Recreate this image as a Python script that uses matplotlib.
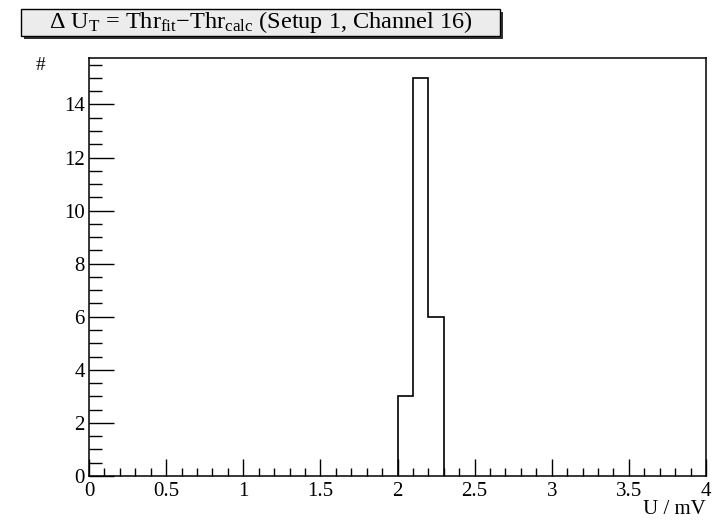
import matplotlib
matplotlib.use("Agg")
import matplotlib.pyplot as plt
from matplotlib.patches import Rectangle
from matplotlib.ticker import MultipleLocator, FuncFormatter

plt.rcParams['font.family'] = ['Liberation Serif', 'DejaVu Serif']
plt.rcParams['mathtext.fontset'] = 'custom'
plt.rcParams['mathtext.rm'] = 'Liberation Serif'
plt.rcParams['mathtext.it'] = 'Liberation Serif:italic'

# data
bin_edges = [2.0, 2.1, 2.2, 2.3]
counts = [3, 15, 6]
x_label = "U / mV"
y_label = "#"
title = r"$\Delta$ U$_{\mathrm{T}}$ = Thr$_{\mathrm{fit}}$$-$Thr$_{\mathrm{calc}}$ (Setup 1, Channel 16)"

W, H = 718, 521
fig = plt.figure(figsize=(W / 100, H / 100), dpi=100)
ax = fig.add_axes([89 / W, (H - 476) / H, (706 - 89) / W, (476 - 58) / H])

ax.stairs(counts, bin_edges, baseline=0, color='black', linewidth=1.2)

ax.set_xlim(0, 4)
ax.set_ylim(0, 15.75)
ax.xaxis.set_major_locator(MultipleLocator(0.5))
ax.xaxis.set_minor_locator(MultipleLocator(0.1))
ax.yaxis.set_major_locator(MultipleLocator(2))
ax.yaxis.set_minor_locator(MultipleLocator(0.5))
ax.xaxis.set_major_formatter(FuncFormatter(lambda v, p: f"{v:g}"))
ax.yaxis.set_major_formatter(FuncFormatter(lambda v, p: f"{v:g}"))
ax.tick_params(axis='both', which='both', direction='in', top=False, right=False,
               labelsize=15, width=1)
ax.tick_params(axis='x', which='major', length=12, pad=4)
ax.tick_params(axis='x', which='minor', length=6)
ax.tick_params(axis='y', which='major', length=18, pad=3)
ax.tick_params(axis='y', which='minor', length=9)
for s in ax.spines.values():
    s.set_linewidth(1.1)

fig.text(706 / W, 1 - 510 / H, x_label, ha='right', va='center', fontsize=15)
fig.text(41 / W, 1 - 65 / H, y_label, ha='center', va='center', fontsize=14)

# title box with shadow
bx0, bx1, by0, by1 = 21, 500, 9, 36
sh = 3
fig.patches.append(Rectangle(((bx0 + sh) / W, 1 - (by1 + sh) / H), (bx1 - bx0) / W, (by1 - by0) / H,
                             transform=fig.transFigure, facecolor='#333333', edgecolor='none', zorder=1))
fig.patches.append(Rectangle((bx0 / W, 1 - by1 / H), (bx1 - bx0) / W, (by1 - by0) / H,
                             transform=fig.transFigure, facecolor='#ececec', edgecolor='black',
                             linewidth=1, zorder=2))
fig.text((bx0 + bx1) / 2 / W, 1 - 22 / H, title, ha='center', va='center', fontsize=17.5, zorder=3)

fig.savefig("out.png", dpi=100)
